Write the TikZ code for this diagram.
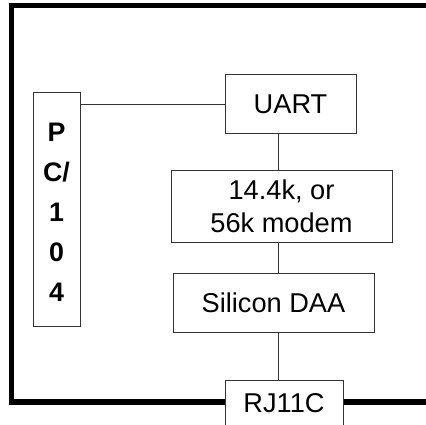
\documentclass[tikz,border=0pt]{standalone}
\usepackage{fontspec}
\setmainfont{Liberation Sans}
\begin{document}
\begin{tikzpicture}[x=1pt,y=-1pt,
  blk/.style={draw=black!80, line width=1pt, rectangle, inner sep=0pt, align=center,
    font=\fontsize{27.2}{33}\selectfont},
  wire/.style={draw=black!80, line width=1pt},
  frame/.style={draw=black, line width=5.6pt, line join=miter, line cap=butt}]
\useasboundingbox (0,0) rectangle (426,425);
\clip (0,0) rectangle (426,425);
\node[blk, minimum width=47, minimum height=233, font=\fontsize{26.8}{40.2}\selectfont\bfseries] (pc) at (56.5,209.5) {\rule{0pt}{24pt}P\\C/\\1\\0\\4};
\node[blk, minimum width=131, minimum height=59] (uart) at (290.5,104.5) {UART};
\node[blk, minimum width=221, minimum height=71] (modem) at (281.5,206.5) {14.4k, or\\56k modem};
\node[blk, minimum width=201, minimum height=59] (daa) at (273.5,302.5) {Silicon DAA};
\node[blk, minimum width=118, anchor=north, inner xsep=0pt, inner ysep=12.5pt, text height=19.5pt, text depth=40pt] (rj) at (284,379.5) {RJ11C};
\coordinate (spine) at (278.5,0);
\coordinate (tr) at (430,5.5);
\coordinate (br) at (430,401.8);
\draw[wire] (uart.west) -- (uart.west -| pc.east);
\draw[wire] (uart.south -| spine) -- (modem.north -| spine);
\draw[wire] (modem.south -| spine) -- (daa.north -| spine);
\draw[wire] (daa.south -| spine) -- (rj.north -| spine);
\draw[frame] (tr) -- (11.3,5.5) -- (11.3,401.8) -- (rj.west |- br);
\draw[frame] (rj.east |- br) -- (br);
\end{tikzpicture}
\end{document}
